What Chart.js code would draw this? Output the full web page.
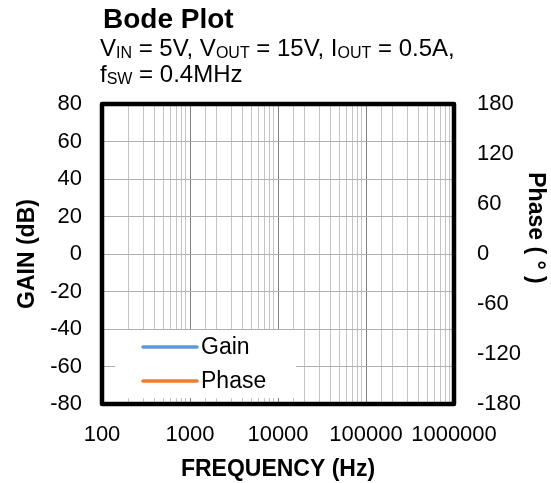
<!DOCTYPE html>
<html>
<head>
<meta charset="utf-8">
<title>Bode Plot</title>
<script src="https://cdn.jsdelivr.net/npm/chart.js@4.4.0/dist/chart.umd.min.js"></script>
<style>
  html, body { margin: 0; padding: 0; background: #fff; }
  #wrap { position: relative; width: 551px; height: 483px; font-family: "Liberation Sans", Arial, sans-serif; color: #000; }
  #bode { position: absolute; left: 0; top: 0; }
  .title { position: absolute; left: 103px; top: 5px; font-size: 28px; line-height: 28px; font-weight: bold; white-space: nowrap; }
  .sub { position: absolute; left: 100px; font-size: 24px; line-height: 26px; white-space: nowrap; }
  .sub span { font-size: 16px; vertical-align: -2px; }
</style>
</head>
<body>
<div id="wrap">
  <canvas id="bode" width="551" height="483"></canvas>
  <div class="title">Bode Plot</div>
  <div class="sub" style="top:35px">V<span>IN</span> = 5V, V<span>OUT</span> = 15V, I<span>OUT</span> = 0.5A,</div>
  <div class="sub" style="top:61px">f<span>SW</span> = 0.4MHz</div>
</div>
<script>
// axis ticks
const freqTicks = [100, 1000, 10000, 100000, 1000000];
const gainTicks = [-80, -60, -40, -20, 0, 20, 40, 60, 80];
const phaseTicks = [-180, -120, -60, 0, 60, 120, 180];

// series (nothing is plotted in the reference)
const seriesNames = ['Gain', 'Phase'];
const gainData = [];
const phaseData = [];

const FONT = "'Liberation Sans', Arial, sans-serif";
Chart.defaults.font.family = FONT;
Chart.defaults.color = '#000';

function isDecade(v) {
    return freqTicks.some(t => Math.abs(t - v) < t * 1e-6);
}

// legend box inside the plot area
const insideLegend = {
    id: 'insideLegend',
    afterDatasetsDraw(chart) {
        const { ctx, chartArea: a } = chart;
        const x = a.left + 13, y = a.bottom - 74;
        ctx.save();
        ctx.fillStyle = '#fff';
        ctx.fillRect(x, y, 181, 68);
        ctx.font = '23px ' + FONT;
        ctx.textBaseline = 'middle';
        chart.data.datasets.forEach((ds, i) => {
            const cy = y + 17 + i * 34;
            ctx.strokeStyle = ds.borderColor;
            ctx.lineWidth = 3.5;
            ctx.lineCap = 'round';
            ctx.beginPath();
            ctx.moveTo(x + 28, cy);
            ctx.lineTo(x + 82, cy);
            ctx.stroke();
            ctx.fillStyle = '#000';
            ctx.fillText(ds.label, x + 86, cy + 1);
        });
        ctx.restore();
    }
};

// thick frame + right axis title
const frame = {
    id: 'frame',
    afterDraw(chart) {
        const { ctx, chartArea: a } = chart;
        ctx.save();
        ctx.strokeStyle = '#000';
        ctx.lineWidth = 4.5;
        ctx.lineJoin = 'round';
        ctx.strokeRect(a.left, a.top, a.right - a.left, a.bottom - a.top);

        ctx.translate(a.right + 81, a.top + 124);
        ctx.rotate(Math.PI / 2);
        ctx.font = 'bold 23px ' + FONT;
        ctx.fillStyle = '#000';
        ctx.textAlign = 'center';
        ctx.textBaseline = 'middle';
        ctx.fillText('Phase ( ° )', 0, 0);
        ctx.restore();
    }
};

new Chart(document.getElementById('bode'), {
    type: 'line',
    data: {
        datasets: [{
            label: seriesNames[0],
            data: gainData,
            borderColor: '#5B9BD5',
            borderWidth: 2,
            pointRadius: 0,
            yAxisID: 'y'
        }, {
            label: seriesNames[1],
            data: phaseData,
            borderColor: '#ED7D31',
            borderWidth: 2,
            pointRadius: 0,
            yAxisID: 'y2'
        }]
    },
    options: {
        responsive: false,
        animation: false,
        layout: { padding: { top: 104, left: 0, right: 0, bottom: 0 } },
        plugins: {
            legend: { display: false },
            tooltip: { enabled: false }
        },
        scales: {
            x: {
                type: 'logarithmic',
                min: freqTicks[0],
                max: freqTicks[freqTicks.length - 1],
                afterFit(scale) { scale.height = 79; },
                border: { display: false },
                grid: {
                    drawTicks: false,
                    color: ctx => isDecade(ctx.tick.value) ? '#808080' : '#c4c4c4',
                    lineWidth: 1
                },
                ticks: {
                    autoSkip: false,
                    maxRotation: 0,
                    padding: 18,
                    font: { size: 22 },
                    callback: v => isDecade(v) ? String(v) : ''
                },
                title: {
                    display: true,
                    text: 'FREQUENCY (Hz)',
                    font: { size: 23, weight: 'bold' },
                    padding: { top: 0, bottom: 0 }
                }
            },
            y: {
                position: 'left',
                min: gainTicks[0],
                max: gainTicks[gainTicks.length - 1],
                afterFit(scale) { scale.width = 102; },
                border: { display: false },
                grid: { drawTicks: false, color: '#b0b0b0', lineWidth: 1 },
                ticks: {
                    stepSize: gainTicks[1] - gainTicks[0],
                    padding: 20,
                    font: { size: 22 }
                },
                title: {
                    display: true,
                    text: 'GAIN (dB)',
                    font: { size: 23, weight: 'bold' },
                    padding: { top: 14, bottom: 0 }
                }
            },
            y2: {
                position: 'right',
                min: phaseTicks[0],
                max: phaseTicks[phaseTicks.length - 1],
                afterFit(scale) { scale.width = 97; },
                border: { display: false },
                grid: { display: false, drawTicks: false },
                ticks: {
                    stepSize: phaseTicks[1] - phaseTicks[0],
                    padding: 23,
                    font: { size: 22 }
                }
            }
        }
    },
    plugins: [insideLegend, frame]
});
</script>
</body>
</html>
